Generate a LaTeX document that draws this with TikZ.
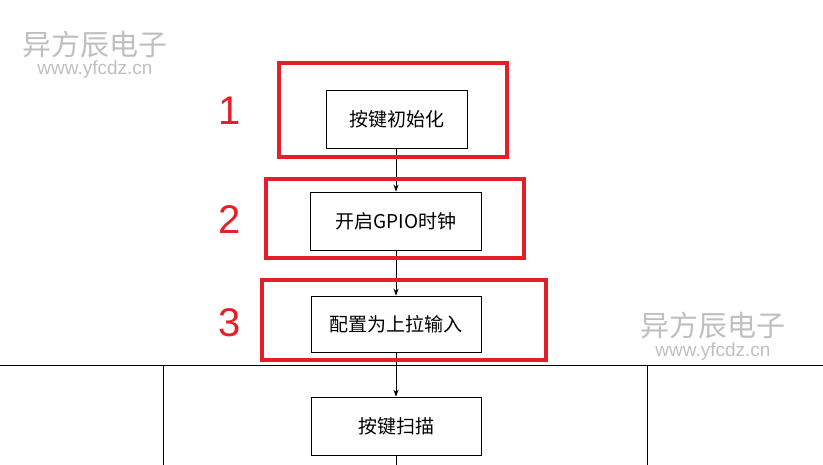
\documentclass[tikz,border=0pt]{standalone}
\usepackage{fontspec}
\newfontfamily\cjk{Noto Sans CJK SC}
\setmainfont{Liberation Sans}
\usetikzlibrary{arrows.meta, positioning}
\definecolor{markred}{RGB}{230,30,40}
\tikzset{%
	step box/.style={
		draw, thick, minimum height=58pt, font=\cjk\fontsize{19}{21}\selectfont
	},
	mark box/.style={draw=markred, line width=3.5pt},
	mark num/.style={text=markred, font=\fontsize{40}{44}\selectfont},
	flow/.style={draw, thick, -{Stealth[length=7pt]}},
}
\begin{document}
\begin{tikzpicture}[x=1pt, y=-1pt]
	\useasboundingbox (0,0) rectangle (823,465);
	% watermarks
	\node[text=black!25, font=\cjk\fontsize{29}{31}\selectfont] (wm1) at (95,44) {异方辰电子};
	\node[text=black!25, font=\fontsize{19}{21}\selectfont] (wu1) at (95,70) {www.yfcdz.cn};
	\node[text=black!25, font=\cjk\fontsize{29}{31}\selectfont] (wm2) at (713,325) {异方辰电子};
	\node[text=black!25, font=\fontsize{19}{21}\selectfont] (wu2) at (713,352) {www.yfcdz.cn};
	% lane lines
	\draw[thick] (0,365) -- (823,365);
	\draw[thick] (163,365) -- (163,465);
	\draw[thick] (647,365) -- (647,465);
	% steps
	\node[step box, minimum width=141pt] (init) at (396.5,119) {按键初始化};
	\node[step box, minimum width=171pt] (clk) at (396,221) {开启GPIO时钟};
	\node[step box, minimum width=170pt, minimum height=56pt] (pull) at (396,324) {配置为上拉输入};
	\node[step box, minimum width=170pt] (scan) at (396,426) {按键扫描};
	\coordinate (end) at (396,465);
	\draw[flow] (clk.north |- init.south) -- (clk.north);
	\draw[flow] (clk) -- (pull);
	\draw[flow] (pull) -- (scan);
	\draw[thick] (scan) -- (end);
	% red marks
	\draw[mark box] (279,63) rectangle (507,157);
	\draw[mark box] (266,179) rectangle (524,258);
	\draw[mark box] (262,280) rectangle (546,360);
	\node[mark num] (n1) at (230,111) {1};
	\node[mark num] (n2) at (230,220) {2};
	\node[mark num] (n3) at (230,323) {3};
\end{tikzpicture}
\end{document}
